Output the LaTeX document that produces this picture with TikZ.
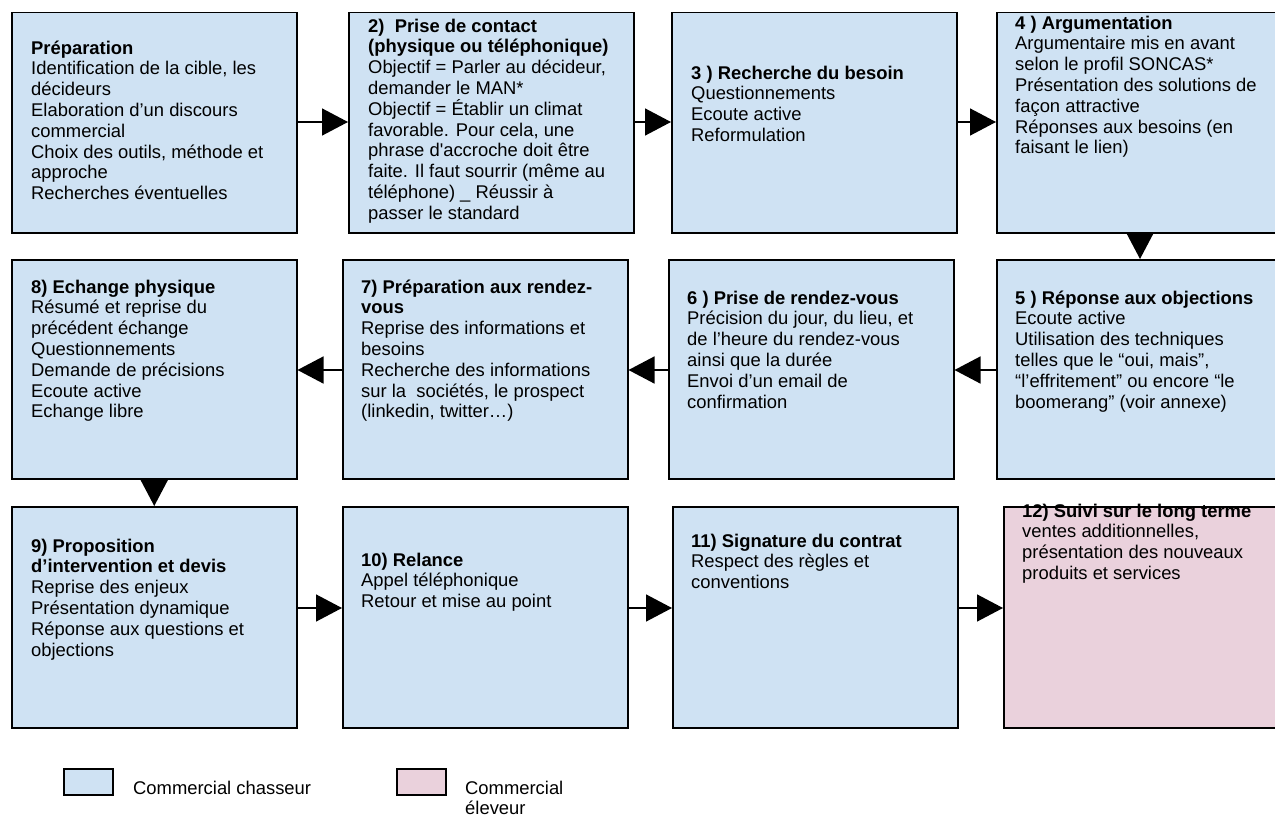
\documentclass[tikz,border=0pt]{standalone}
\usepackage{fontspec}
\setmainfont{Liberation Sans}[Ligatures=TeXOff]
\usetikzlibrary{arrows.meta}
\definecolor{chasseur}{HTML}{CFE2F3}
\definecolor{eleveur}{HTML}{EAD1DC}
\tikzset{
  stepbox/.style={draw=black, line width=1.5pt, fill=chasseur, minimum width=285pt, minimum height=220pt, anchor=north west, inner sep=0pt},
  pinkbox/.style={stepbox, fill=eleveur},
  txt/.style={anchor=north west, align=left, inner sep=0pt, font=\fontsize{18.4}{20.8}\selectfont},
  arr/.style={line width=1.5pt, -{Triangle[length=26pt,width=27pt]}},
  legbox/.style={draw=black, line width=1.5pt, minimum width=49pt, minimum height=26pt, anchor=north west, inner sep=0pt}
}
% first-line baseline is at (given y)+14.56pt (strut height)
\begin{document}
\begin{tikzpicture}[x=1pt,y=-1pt]
\useasboundingbox (0,0) rectangle (1275,816);
\clip (0,0) rectangle (1275,816);
% row 1
\node[stepbox] (b1) at (11,12) {};
\node[stepbox] (b2) at (348,12) {};
\node[stepbox] (b3) at (671,12) {};
\node[stepbox] (b4) at (996,12) {};
% row 2
\node[stepbox, minimum height=219pt] (b8) at (11,259) {};
\node[stepbox, minimum height=219pt] (b7) at (342,259) {};
\node[stepbox, minimum height=219pt] (b6) at (668,259) {};
\node[stepbox, minimum height=219pt] (b5) at (996,259) {};
% row 3
\node[stepbox, minimum height=221pt] (b9) at (11,506) {};
\node[stepbox, minimum height=221pt] (b10) at (342,506) {};
\node[stepbox, minimum height=221pt] (b11) at (672,506) {};
\node[pinkbox, minimum height=221pt] (b12) at (1003,506) {};

% texts
\node[txt] (t1) at (31,39.4) {\strut\textbf{Préparation}\\Identification de la cible, les\\décideurs\\Elaboration d’un discours\\commercial\\Choix des outils, méthode et\\approche\\Recherches éventuelles};
\node[txt] (t2) at (368,17.4) {\strut\textbf{2)\ \ Prise de contact}\\\textbf{(physique ou téléphonique)}\\Objectif = Parler au décideur,\\demander le MAN*\\Objectif = Établir un climat\\favorable. Pour cela, une\\phrase d'accroche doit être\\faite. Il faut sourrir (même au\\téléphone) \_ Réussir à\\passer le standard};
\node[txt] (t3) at (691,64.4) {\strut\textbf{3 ) Recherche du besoin}\\Questionnements\\Ecoute active\\Reformulation};
\node[txt] (t4) at (1015,14.4) {\strut\textbf{4 ) Argumentation}\\Argumentaire mis en avant\\selon le profil SONCAS*\\Présentation des solutions de\\façon attractive\\Réponses aux besoins (en\\faisant le lien)};
\node[txt] (t8) at (31,278.4) {\strut\textbf{8) Echange physique}\\Résumé et reprise du\\précédent échange\\Questionnements\\Demande de précisions\\Ecoute active\\Echange libre};
\node[txt] (t7) at (361,278.4) {\strut\textbf{7) Préparation aux rendez-}\\\textbf{vous}\\Reprise des informations et\\besoins\\Recherche des informations\\sur la\ \ sociétés, le prospect\\(linkedin, twitter…)};
\node[txt] (t6) at (687,289.4) {\strut\textbf{6 ) Prise de rendez-vous}\\Précision du jour, du lieu, et\\de l’heure du rendez-vous\\ainsi que la durée\\Envoi d’un email de\\confirmation};
\node[txt] (t5) at (1015,289.4) {\strut\textbf{5 ) Réponse aux objections}\\Ecoute active\\Utilisation des techniques\\telles que le “oui, mais”,\\“l’effritement” ou encore “le\\boomerang” (voir annexe)};
\node[txt] (t9) at (31,537.4) {\strut\textbf{9) Proposition}\\\textbf{d’intervention et devis}\\Reprise des enjeux\\Présentation dynamique\\Réponse aux questions et\\objections};
\node[txt] (t10) at (361,551.4) {\strut\textbf{10) Relance}\\Appel téléphonique\\Retour et mise au point};
\node[txt] (t11) at (691,532.4) {\strut\textbf{11) Signature du contrat}\\Respect des règles et\\conventions};
\node[txt] (t12) at (1022,502.4) {\strut\textbf{12) Suivi sur le long terme}\\ventes additionnelles,\\présentation des nouveaux\\produits et services};

% connectors
\coordinate (r1) at (0,122);
\coordinate (r2) at (0,370);
\coordinate (r3) at (0,608);
\draw[arr] (b1.east |- r1) -- (b2.west |- r1);
\draw[arr] (b2.east |- r1) -- (b3.west |- r1);
\draw[arr] (b3.east |- r1) -- (b4.west |- r1);
\draw[arr] (b4.south -| 1140,0) -- (b5.north -| 1140,0);
\draw[arr] (b5.west |- r2) -- (b6.east |- r2);
\draw[arr] (b6.west |- r2) -- (b7.east |- r2);
\draw[arr] (b7.west |- r2) -- (b8.east |- r2);
\draw[arr] (b8.south) -- (b9.north);
\draw[arr] (b9.east |- r3) -- (b10.west |- r3);
\draw[arr] (b10.east |- r3) -- (b11.west |- r3);
\draw[arr] (b11.east |- r3) -- (b12.west |- r3);

% legend
\node[legbox, fill=chasseur] (l1) at (63,768) {};
\node[txt] (lt1) at (133,779.4) {\strut Commercial chasseur};
\node[legbox, fill=eleveur] (l2) at (396,768) {};
\node[txt] (lt2) at (465,779.4) {\strut Commercial\\éleveur};
\end{tikzpicture}
\end{document}
